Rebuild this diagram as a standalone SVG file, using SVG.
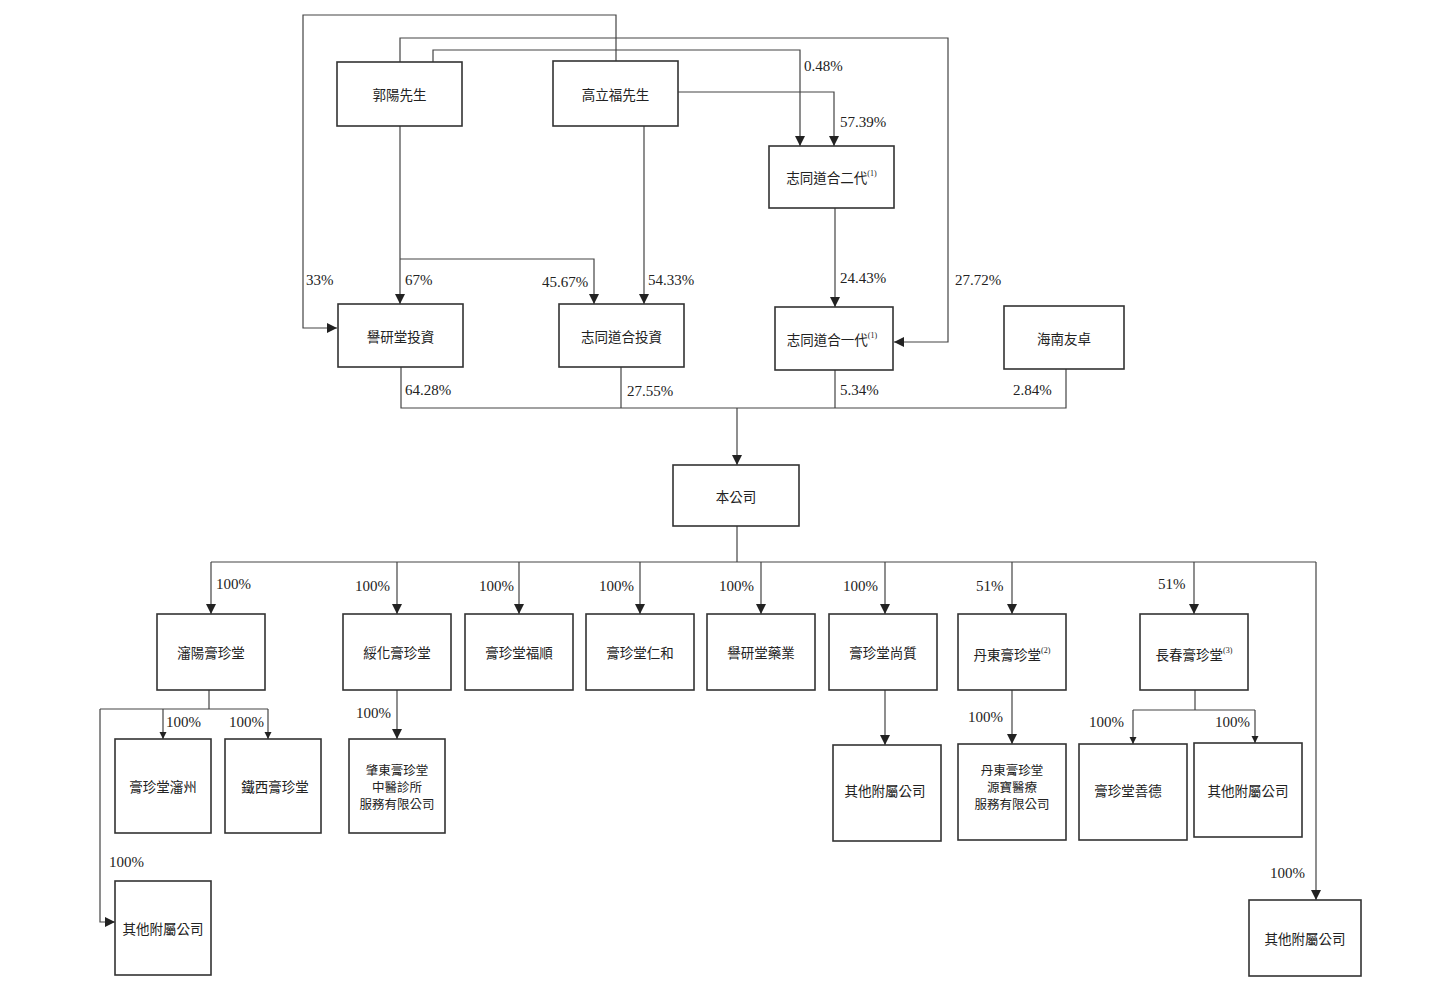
<svg xmlns="http://www.w3.org/2000/svg" width="1430" height="987" viewBox="0 0 1430 987">
<defs>
<marker id="ah" markerUnits="userSpaceOnUse" viewBox="0 0 10 10" refX="10" refY="5" markerWidth="10" markerHeight="11" orient="auto"><path d="M0,0 L10,5 L0,10 z" fill="#222"/></marker>
<marker id="as" markerUnits="userSpaceOnUse" viewBox="0 0 10 10" refX="10" refY="5" markerWidth="7" markerHeight="8" orient="auto"><path d="M0,0 L10,5 L0,10 z" fill="#222"/></marker>
<style>
.box{fill:#fff;stroke:#333;stroke-width:1.6}
.t{font-family:"Noto Sans CJK TC","Noto Sans CJK SC",sans-serif;font-size:13.5px;fill:#222;text-anchor:middle;dominant-baseline:central}
.m{font-size:12.5px}
.sup{font-family:"Liberation Serif",serif;font-size:8px}
.p{font-family:"Liberation Serif","Noto Sans CJK TC",serif;font-size:15px;fill:#222}
.c{fill:none;stroke:#444;stroke-width:1.2}
.a{marker-end:url(#ah)}
.s{marker-end:url(#as)}
</style>
</defs>
<rect width="1430" height="987" fill="#fff"/>
<g id="connectors">
<path class="c a" d="M616,61 V15 H303 V328 H337"/>
<path class="c a" d="M400,62 V38 H948 V342 H894"/>
<path class="c a" d="M433,62 V50 H800 V146"/>
<path class="c a" d="M678,92 H834 V146"/>
<path class="c a" d="M400,126 V304"/>
<path class="c a" d="M400,259 H594 V304"/>
<path class="c a" d="M644,126 V304"/>
<path class="c a" d="M835,208 V307"/>
<path class="c" d="M401,367 V408 H1066 V369 M621,367 V408 M835,370 V408"/>
<path class="c a" d="M737,408 V465"/>
<path class="c" d="M737,526 V562 M211,562 H1316"/>
<path class="c a" d="M211,562 V614"/>
<path class="c a" d="M397,562 V614"/>
<path class="c a" d="M519,562 V614"/>
<path class="c a" d="M640,562 V614"/>
<path class="c a" d="M761,562 V614"/>
<path class="c a" d="M885,562 V614"/>
<path class="c a" d="M1012,562 V614"/>
<path class="c a" d="M1194,562 V614"/>
<path class="c a" d="M1316,562 V900"/>
<path class="c" d="M209,690 V709 M100,709 H268"/>
<path class="c s" d="M163,709 V739"/>
<path class="c s" d="M268,709 V739"/>
<path class="c a" d="M100,709 V922 H115"/>
<path class="c a" d="M397,690 V739"/>
<path class="c a" d="M885,690 V745"/>
<path class="c a" d="M1012,690 V744"/>
<path class="c" d="M1195,690 V710 M1133,710 H1255"/>
<path class="c s" d="M1133,710 V744"/>
<path class="c s" d="M1255,710 V743"/>
</g>
<g id="labels">
<text class="p" x="804" y="71">0.48%</text>
<text class="p" x="840" y="127">57.39%</text>
<text class="p" x="306" y="285">33%</text>
<text class="p" x="405" y="285">67%</text>
<text class="p" x="542" y="287">45.67%</text>
<text class="p" x="648" y="285">54.33%</text>
<text class="p" x="840" y="283">24.43%</text>
<text class="p" x="955" y="285">27.72%</text>
<text class="p" x="405" y="395">64.28%</text>
<text class="p" x="627" y="396">27.55%</text>
<text class="p" x="840" y="395">5.34%</text>
<text class="p" x="1013" y="395">2.84%</text>
<text class="p" x="216" y="589">100%</text>
<text class="p" x="355" y="591">100%</text>
<text class="p" x="479" y="591">100%</text>
<text class="p" x="599" y="591">100%</text>
<text class="p" x="719" y="591">100%</text>
<text class="p" x="843" y="591">100%</text>
<text class="p" x="976" y="591">51%</text>
<text class="p" x="1158" y="589">51%</text>
<text class="p" x="166" y="727">100%</text>
<text class="p" x="229" y="727">100%</text>
<text class="p" x="356" y="718">100%</text>
<text class="p" x="109" y="867">100%</text>
<text class="p" x="968" y="722">100%</text>
<text class="p" x="1089" y="727">100%</text>
<text class="p" x="1215" y="727">100%</text>
<text class="p" x="1270" y="878">100%</text>
</g>
<g id="n-guoyang"><rect class="box" x="337" y="62" width="125" height="64"/><text class="t" x="399.5" y="94">郭陽先生</text></g>
<g id="n-gaolifu"><rect class="box" x="553" y="61" width="125" height="65"/><text class="t" x="615.5" y="93.5">高立福先生</text></g>
<g id="n-zhitong2"><rect class="box" x="769" y="146" width="125" height="62"/><text class="t" x="831.5" y="177">志同道合二代<tspan class="sup" dy="-4">(1)</tspan></text></g>
<g id="n-yuyantang-inv"><rect class="box" x="338" y="304" width="125" height="63"/><text class="t" x="400.5" y="335.5">譽研堂投資</text></g>
<g id="n-zhitong-inv"><rect class="box" x="559" y="304" width="125" height="63"/><text class="t" x="621.5" y="335.5">志同道合投資</text></g>
<g id="n-zhitong1"><rect class="box" x="775" y="307" width="118" height="63"/><text class="t" x="832" y="338.5">志同道合一代<tspan class="sup" dy="-4">(1)</tspan></text></g>
<g id="n-hainan"><rect class="box" x="1004" y="306" width="120" height="63"/><text class="t" x="1064" y="337.5">海南友卓</text></g>
<g id="n-company"><rect class="box" x="673" y="465" width="126" height="61"/><text class="t" x="736" y="495.5">本公司</text></g>
<g id="n-shenyang"><rect class="box" x="157" y="614" width="108" height="76"/><text class="t" x="211" y="652">瀋陽膏珍堂</text></g>
<g id="n-suihua"><rect class="box" x="343" y="614" width="108" height="76"/><text class="t" x="397" y="652">綏化膏珍堂</text></g>
<g id="n-fushun"><rect class="box" x="465" y="614" width="108" height="76"/><text class="t" x="519" y="652">膏珍堂福順</text></g>
<g id="n-renhe"><rect class="box" x="586" y="614" width="108" height="76"/><text class="t" x="640" y="652">膏珍堂仁和</text></g>
<g id="n-yaoye"><rect class="box" x="707" y="614" width="108" height="76"/><text class="t" x="761" y="652">譽研堂藥業</text></g>
<g id="n-shangzhi"><rect class="box" x="829" y="614" width="108" height="76"/><text class="t" x="883" y="652">膏珍堂尚質</text></g>
<g id="n-dandong"><rect class="box" x="958" y="614" width="108" height="76"/><text class="t" x="1012" y="654">丹東膏珍堂<tspan class="sup" dy="-4">(2)</tspan></text></g>
<g id="n-changchun"><rect class="box" x="1140" y="614" width="108" height="76"/><text class="t" x="1194" y="654">長春膏珍堂<tspan class="sup" dy="-4">(3)</tspan></text></g>
<g id="n-shenzhou"><rect class="box" x="115" y="739" width="96" height="94"/><text class="t" x="163" y="786">膏珍堂瀋州</text></g>
<g id="n-tiexi"><rect class="box" x="225" y="739" width="96" height="94"/><text class="t" x="275" y="786">鐵西膏珍堂</text></g>
<g id="n-other-left"><rect class="box" x="115" y="881" width="96" height="94"/><text class="t" x="163" y="928">其他附屬公司</text></g>
<g id="n-zhaodong"><rect class="box" x="349" y="739" width="96" height="94"/><text class="t m" x="397" y="769">肇東膏珍堂</text><text class="t m" x="397" y="786">中醫診所</text><text class="t m" x="397" y="803">服務有限公司</text></g>
<g id="n-other-shangzhi"><rect class="box" x="833" y="745" width="108" height="96"/><text class="t" x="885" y="790">其他附屬公司</text></g>
<g id="n-yuanbao"><rect class="box" x="958" y="744" width="108" height="96"/><text class="t m" x="1012" y="769">丹東膏珍堂</text><text class="t m" x="1012" y="786">源寶醫療</text><text class="t m" x="1012" y="803">服務有限公司</text></g>
<g id="n-shande"><rect class="box" x="1079" y="744" width="108" height="96"/><text class="t" x="1128" y="790">膏珍堂善德</text></g>
<g id="n-other-changchun"><rect class="box" x="1194" y="743" width="108" height="94"/><text class="t" x="1248" y="790">其他附屬公司</text></g>
<g id="n-other-right"><rect class="box" x="1249" y="900" width="112" height="76"/><text class="t" x="1305" y="938">其他附屬公司</text></g>
</svg>
